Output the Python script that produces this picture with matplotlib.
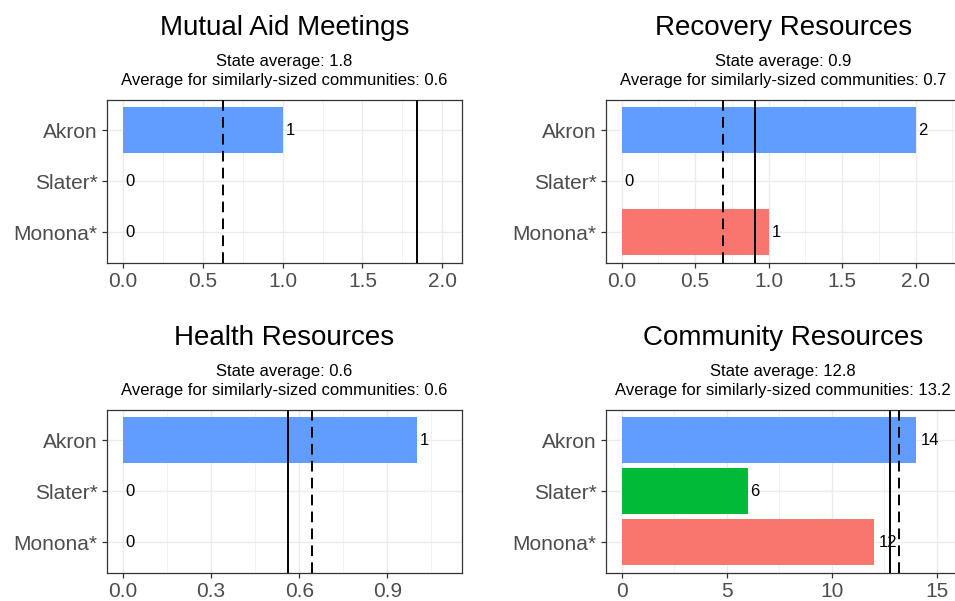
import matplotlib
matplotlib.use("Agg")
import matplotlib.pyplot as plt
from matplotlib.ticker import FixedLocator

plt.rcParams['font.family'] = ['Liberation Sans', 'DejaVu Sans']

communities = ["Akron", "Slater*", "Monona*"]
bar_colors = ["#619CFF", "#00BA38", "#F8766D"]

titles = ["Mutual Aid Meetings", "Recovery Resources", "Health Resources", "Community Resources"]
values = [
    [1, 0, 0],
    [2, 0, 1],
    [1, 0, 0],
    [14, 6, 12],
]
state_avg = [1.84, 0.908, 0.563, 12.8]
similar_avg = [0.628, 0.689, 0.643, 13.23]
major_steps = [0.5, 0.5, 0.3, 5]
tick_fmt = ["{:.1f}", "{:.1f}", "{:.1f}", "{:.0f}"]

W, H = 955, 601
fig = plt.figure(figsize=(W / 100, H / 100), dpi=100)

# panel boxes in pixels: left, top, width, height
boxes = [
    (106.7, 99.7, 355.6, 163.3),
    (605.5, 99.7, 355.6, 163.3),
    (106.7, 409.7, 355.6, 163.3),
    (605.5, 409.7, 355.6, 163.3),
]

grid_col = "#EBEBEB"
border_col = "#333333"
tick_col = "#4D4D4D"

for i in range(4):
    l, t, w, h = boxes[i]
    ax = fig.add_axes([l / W, 1 - (t + h) / H, w / W, h / H])
    vals = values[i]
    ypos = [3, 2, 1]
    top = max(max(vals), state_avg[i], similar_avg[i]) * 1.1
    span = top
    ax.set_xlim(-0.05 * span, top + 0.05 * span)
    ax.set_ylim(0.4, 3.6)

    step = major_steps[i]
    majors = []
    k = 0
    while k * step <= top + 0.05 * span + 1e-9:
        majors.append(k * step)
        k += 1
    minors = [m + step / 2 for m in majors]
    ax.xaxis.set_major_locator(FixedLocator(majors))
    ax.xaxis.set_minor_locator(FixedLocator(minors))
    ax.set_xticklabels([tick_fmt[i].format(m) for m in majors])
    ax.set_yticks(ypos)
    ax.set_yticklabels(communities)

    ax.grid(True, which='major', color=grid_col, lw=1.0, zorder=0)
    ax.grid(True, which='minor', axis='x', color=grid_col, lw=0.5, zorder=0)
    ax.set_axisbelow(True)

    ax.barh(ypos, vals, height=0.9, color=bar_colors, zorder=2)

    fs_lab = 12
    for y, v in zip(ypos, vals):
        s = str(v)
        off = 0.3 * len(s) * 0.556 * fs_lab
        ax.annotate(s, (v, y), xytext=(off, 0), textcoords='offset points',
                    ha='left', va='center', fontsize=fs_lab, color='black', zorder=4)

    ax.axvline(state_avg[i], color='black', lw=1.4, zorder=3)
    ln = ax.axvline(similar_avg[i], color='black', lw=1.4, zorder=3)
    ln.set_dashes((5.5, 3.2))

    for sp in ax.spines.values():
        sp.set_color(border_col)
        sp.set_linewidth(0.9)
    ax.tick_params(axis='both', which='major', length=3.5, width=0.9, color=border_col,
                   labelsize=15, labelcolor=tick_col, pad=3)
    ax.tick_params(axis='both', which='minor', length=0)

    cx = (l + w / 2) / W
    fig.text(cx, 1 - (t - 64.7) / H, titles[i], ha='center', va='baseline',
             fontsize=20, color='black')
    fig.text(cx, 1 - (t - 33.4) / H, "State average: {:.1f}".format(state_avg[i]),
             ha='center', va='baseline', fontsize=12, color='black')
    fig.text(cx, 1 - (t - 14.7) / H,
             "Average for similarly-sized communities: {:.1f}".format(similar_avg[i]),
             ha='center', va='baseline', fontsize=12, color='black')

fig.savefig("out.png", dpi=100, facecolor='white')
